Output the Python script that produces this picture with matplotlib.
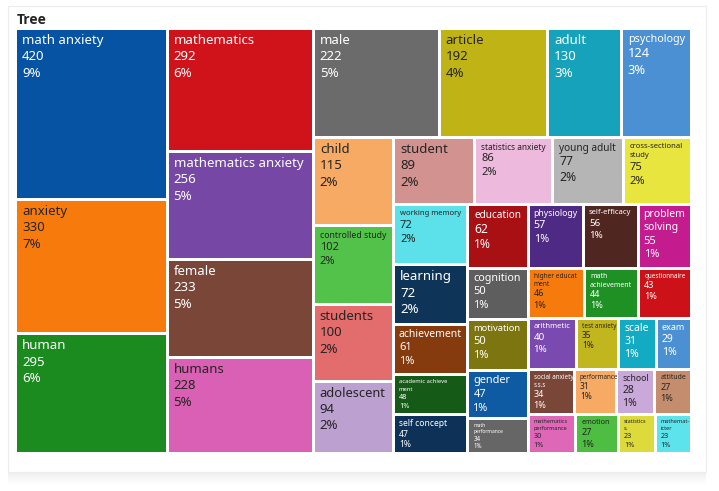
import matplotlib
matplotlib.use("Agg")
import matplotlib.pyplot as plt
from matplotlib.patches import Rectangle
from matplotlib.colors import to_rgb

plt.rcParams['font.family'] = ['Noto Sans', 'DejaVu Sans']

# ---------------- data ----------------
labels = [
    "math anxiety", "anxiety", "human",
    "mathematics", "mathematics anxiety", "female", "humans",
    "male", "article", "adult", "psychology",
    "child", "controlled study", "students", "adolescent",
    "student", "statistics anxiety", "young adult", "cross-sectional\nstudy",
    "working memory", "learning", "achievement", "academic achieve\nment", "self concept",
    "education", "physiology", "self-efficacy", "problem\nsolving",
    "cognition", "motivation", "gender", "math\nperformance",
    "higher educat\nment", "math\nachievement", "questionnaire",
    "arithmetic", "test anxiety", "scale", "exam",
    "social anxiety\ns.s.s", "performance", "school", "attitude",
    "mathematics\nperformance", "emotion", "statistics\ns.", "mathemat-\nicter",
]
values = [
    420, 330, 295,
    292, 256, 233, 228,
    222, 192, 130, 124,
    115, 102, 100, 94,
    89, 86, 77, 75,
    72, 72, 61, 48, 47,
    62, 57, 56, 55,
    50, 50, 47, 34,
    46, 44, 43,
    40, 35, 31, 29,
    34, 31, 28, 27,
    30, 27, 23, 23,
]
colors = [
    "#0653A3", "#F77B0C", "#1B8A1F",
    "#D0121B", "#7647A5", "#7A4638", "#D960B4",
    "#6B6B6B", "#BFB315", "#15A2BA", "#4A90D3",
    "#F7AA64", "#52C24A", "#E36C6C", "#BBA0D0",
    "#D19290", "#EDB9DD", "#B5B5B5", "#E8E53F",
    "#5CE0EA", "#0E3558", "#863B0F", "#155A17", "#0E3158",
    "#A81014", "#4F2A84", "#4F2720", "#C41C8F",
    "#5E5E5E", "#7D7510", "#0F5BA3", "#666666",
    "#F77B0C", "#1F9124", "#CC1218",
    "#7A4AB0", "#C2B61E", "#13ABC3", "#4A90D3",
    "#7A4638", "#F7AA64", "#C9A8DA", "#C48D6E",
    "#DE67B8", "#4DBE42", "#DDDA3C", "#5CE3EC",
]
title = "Tree"

# strip structure of the treemap: (direction, number of items)
strips = [("V", 3), ("V", 4), ("H", 4), ("V", 4), ("H", 4), ("V", 5),
          ("H", 4), ("V", 4), ("H", 3), ("H", 4), ("H", 4), ("H", 4)]

total = sum(values)

# ---------------- figure ----------------
FW, FH = 719, 491
fig = plt.figure(figsize=(FW / 100, FH / 100), dpi=100)
fig.patch.set_facecolor("white")

# card shadow + card
for k in range(12):
    a = 0.16 * (1 - k / 12)
    fig.add_artist(Rectangle((8 / FW, 1 - (473 + k) / FH), (706 - 8) / FW, 1 / FH,
                             transform=fig.transFigure, facecolor="#9a9a9a",
                             alpha=a, edgecolor="none", zorder=-3))
fig.add_artist(Rectangle((8 / FW, 1 - 472 / FH), (706 - 8) / FW, (472 - 6) / FH,
                         transform=fig.transFigure, facecolor="white",
                         edgecolor="#ececec", lw=0.8, zorder=-2))

fig.text(17 / FW, 1 - 20 / FH, title, fontsize=10, fontweight="bold",
         family=["Open Sans", "Lato", "DejaVu Sans"],
         color="#252423", ha="left", va="center")

# plot area in pixels
X0, X1, Y0, Y1 = 15.5, 691.5, 28.5, 453.5
W, H = X1 - X0, Y1 - Y0
ax = fig.add_axes([X0 / FW, 1 - Y1 / FH, W / FW, H / FH])
ax.set_zorder(1)
ax.set_xlim(0, W)
ax.set_ylim(H, 0)
ax.axis("off")


def layout(vals, strips, x, y, w, h):
    rects = []
    i = 0
    remaining = float(sum(vals))
    for d, n in strips:
        grp = vals[i:i + n]
        s = float(sum(grp))
        if d == "V":
            sw = w * s / remaining
            yy = y
            for v in grp:
                hh = h * v / s
                rects.append((x, yy, sw, hh))
                yy += hh
            x += sw
            w -= sw
        else:
            sh = h * s / remaining
            xx = x
            for v in grp:
                ww = w * v / s
                rects.append((xx, y, ww, sh))
                xx += ww
            y += sh
            h -= sh
        remaining -= s
        i += n
    return rects


rects = layout(values, strips, 0, 0, W, H)
renderer = fig.canvas.get_renderer()
gap = 1.5
PX = 100 / 72.0  # pixels per point
LS = 1.25


def text_color(c):
    r, g, b = to_rgb(c)
    lum = 0.299 * r * 255 + 0.587 * g * 255 + 0.114 * b * 255
    return "#252423" if lum > 135 else "white"


for lab, val, col, (x, y, w, h) in zip(labels, values, colors, rects):
    ax.add_patch(Rectangle((x + gap, y + gap), w - 2 * gap, h - 2 * gap,
                           facecolor=col, edgecolor="none"))
    tc = text_color(col)
    m = min(w, h)
    cap = 9.5 if m >= 58 else (8.0 if m >= 45 else 7.5)
    pad = 6 if m >= 58 else 5
    top = 4 if m >= 58 else 3
    avail = w - 2 * pad - 1
    lines = lab.split("\n")
    # fit label font to width
    fs = cap
    while fs > 4.5:
        t = ax.text(0, 0, max(lines, key=len), fontsize=fs)
        bw = t.get_window_extent(renderer).width
        t.remove()
        if bw <= avail:
            break
        fs -= 0.25
    vfs = min(cap, max(fs + 1.5, cap - 1.5))
    # fit text block to height
    need = top + len(lines) * fs * PX * LS + 2 * vfs * PX * LS
    room = h - 2 * gap - 1
    if need > room:
        k = (room - top) / (need - top)
        fs *= k
        vfs *= k
    ty = y + gap + top
    for ln in lines:
        ax.text(x + gap + pad - 1, ty, ln, fontsize=fs, color=tc, ha="left", va="top")
        ty += fs * PX * LS
    ax.text(x + gap + pad - 1, ty, f"{val}", fontsize=vfs, color=tc, ha="left", va="top")
    ty += vfs * PX * LS
    pct = max(1, round(100 * val / total))
    ax.text(x + gap + pad - 1, ty, f"{pct}%", fontsize=vfs, color=tc, ha="left", va="top")

fig.savefig("out.png", dpi=100, facecolor=fig.get_facecolor())
